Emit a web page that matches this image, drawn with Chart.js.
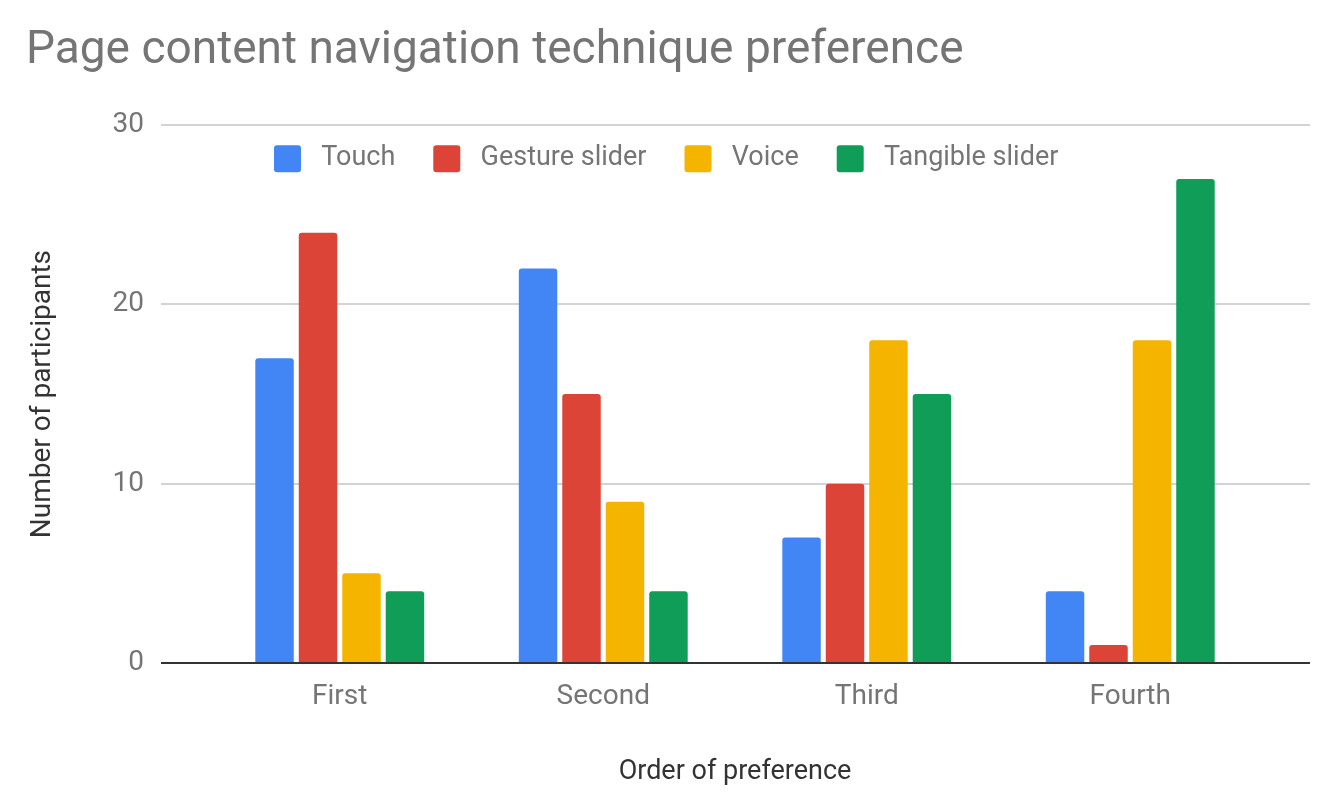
<!DOCTYPE html>
<html>
<head>
<meta charset="utf-8">
<title>Page content navigation technique preference</title>
<script src="https://cdn.jsdelivr.net/npm/chart.js@4/dist/chart.umd.min.js"></script>
<style>
  html, body { margin: 0; padding: 0; background: #ffffff; }
  #wrap { width: 1337px; height: 810px; position: relative; }
</style>
</head>
<body>
<div id="wrap"><canvas id="prefChart"></canvas></div>
<script>
// Data ------------------------------------------------------------------------
const categories = ['First', 'Second', 'Third', 'Fourth'];
const touch = [17, 22, 7, 4];
const gestureSlider = [24, 15, 10, 1];
const voice = [5, 9, 18, 18];
const tangibleSlider = [4, 4, 15, 27];
const yMin = 0;
const yMax = 30;
const yStep = 10;

const greyText = '#757575';
const darkText = '#333333';
const gridColor = (ctx) => (ctx.tick && ctx.tick.value === 0) ? '#333333' : '#d3d3d3';

Chart.defaults.font.family = 'Roboto, "Noto Sans", sans-serif';
Chart.defaults.font.size = 28;
Chart.defaults.color = greyText;

// the legend takes (almost) no room in the layout; this moves it down into the plot
const legendShift = {
    id: 'legendShift',
    afterLayout(chart) {
        const lg = chart.legend;
        if (!lg) return;
        const w = lg.right - lg.left;
        lg.left = chart.chartArea.left + 28;
        lg.right = lg.left + w;
        lg.top = chart.chartArea.top - 18;
        lg.height = 90;
        lg.bottom = lg.top + lg.height;
    }
};

// Bar chart ---------------------------------------------------------------------
const ctx = document.getElementById('prefChart').getContext('2d');
new Chart(ctx, {
    type: 'bar',
    data: {
        labels: categories,
        datasets: [
            { label: 'Touch', data: touch, backgroundColor: '#4285F4' },
            { label: 'Gesture slider', data: gestureSlider, backgroundColor: '#DB4437' },
            { label: 'Voice', data: voice, backgroundColor: '#F4B400' },
            { label: 'Tangible slider', data: tangibleSlider, backgroundColor: '#0F9D58' }
        ]
    },
    options: {
        responsive: true,
        maintainAspectRatio: false,
        animation: false,
        layout: { padding: { left: 26, right: 27, top: 0, bottom: 0 } },
        datasets: {
            bar: {
                categoryPercentage: 0.66,
                barPercentage: 0.885,
                borderRadius: 3,
                borderWidth: 0
            }
        },
        plugins: {
            title: {
                display: true,
                text: 'Page content navigation technique preference',
                align: 'start',
                color: greyText,
                font: { size: 46, weight: 'normal' },
                padding: { top: 24, bottom: 45 }
            },
            legend: {
                position: 'top',
                align: 'start',
                maxHeight: 1,
                labels: {
                    color: greyText,
                    font: { size: 27 },
                    boxWidth: 27,
                    boxHeight: 27,
                    padding: 38,
                    useBorderRadius: true,
                    borderRadius: 3,
                    generateLabels(chart) {
                        const items = Chart.defaults.plugins.legend.labels.generateLabels(chart);
                        items.forEach(it => { it.text = ' ' + it.text; it.lineWidth = 0; });
                        return items;
                    }
                }
            },
            tooltip: { enabled: false }
        },
        scales: {
            x: {
                grid: { display: false, drawTicks: false },
                border: { display: false },
                ticks: { color: greyText, padding: 17 },
                title: {
                    display: true,
                    text: 'Order of preference',
                    color: darkText,
                    font: { size: 27 },
                    padding: { top: 0, bottom: 22 }
                },
                afterFit(scale) { scale.height = 147; }
            },
            y: {
                min: yMin,
                max: yMax,
                ticks: { stepSize: yStep, color: greyText, padding: 17 },
                grid: { color: gridColor, lineWidth: 2, tickLength: 47 },
                border: { display: false },
                title: {
                    display: true,
                    text: 'Number of participants',
                    color: darkText,
                    font: { size: 28 },
                    padding: { top: 0, bottom: 0 }
                },
                afterFit(scale) { scale.width = 182; }
            },
            yRight: {
                type: 'linear',
                position: 'right',
                min: yMin,
                max: yMax,
                ticks: { stepSize: yStep, display: false },
                grid: { color: gridColor, lineWidth: 2, tickLength: 48, drawOnChartArea: false },
                border: { display: false },
                afterFit(scale) { scale.width = 48; }
            }
        }
    },
    plugins: [legendShift]
});
</script>
</body>
</html>
